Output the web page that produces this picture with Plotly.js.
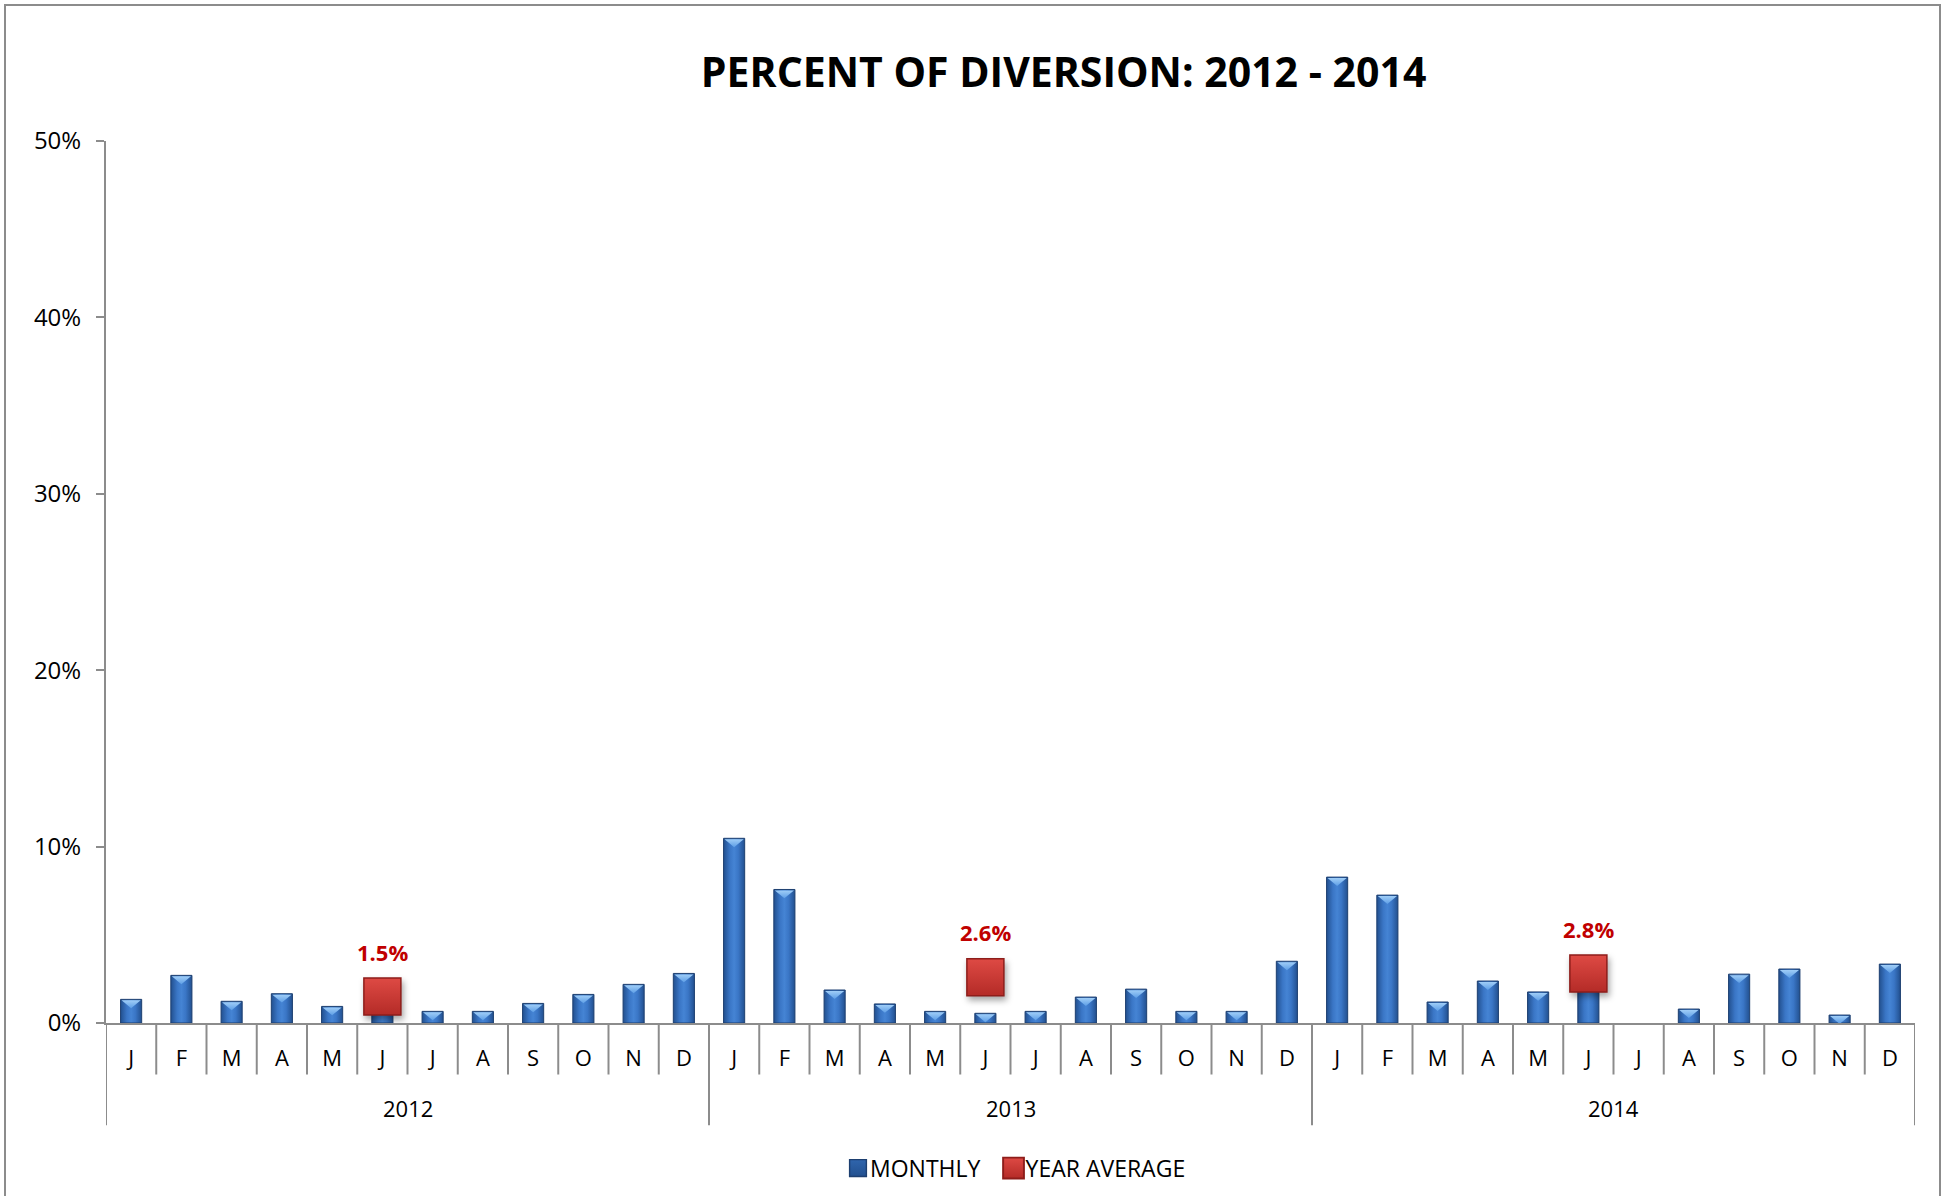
<!DOCTYPE html>
<html><head><meta charset="utf-8">
<script src="https://cdn.plot.ly/plotly-3.0.1.min.js"></script>
<style>
html,body{margin:0;padding:0;background:#fff;overflow:hidden}
#chart{width:1948px;height:1196px}
#frame{position:absolute;left:4px;top:4px;width:1933px;height:1300px;border:2px solid #8c8c8c;pointer-events:none}
</style></head>
<body><div id="chart"></div><div id="frame"></div>
<script>
// ---- data (percent) ----
const years = ['2012', '2013', '2014'];
const months = ['J', 'F', 'M', 'A', 'M', 'J', 'J', 'A', 'S', 'O', 'N', 'D'];
const monthly2012 = [1.34, 2.70, 1.23, 1.66, 0.94, 1.10, 0.66, 0.66, 1.11, 1.62, 2.19, 2.81];
const monthly2013 = [10.47, 7.57, 1.87, 1.08, 0.66, 0.55, 0.66, 1.47, 1.92, 0.66, 0.66, 3.50];
const monthly2014 = [8.27, 7.25, 1.19, 2.38, 1.76, 2.30, null, 0.79, 2.77, 3.06, 0.45, 3.34];
const yearAverage = [1.5, 2.6, 2.8];
const yTickVals = [0, 10, 20, 30, 40, 50];
const yTickText = ['0%', '10%', '20%', '30%', '40%', '50%'];
const averageMonth = 5; // plotted at June

// ---- build ----
const monthlySeries = [monthly2012, monthly2013, monthly2014];
const xIdx = [], yVals = [], tickText = [];
monthlySeries.forEach((arr, yi) => arr.forEach((v, mi) => {
  xIdx.push(yi * months.length + mi); yVals.push(v); tickText.push(months[mi]);
}));
const avgX = years.map((y, yi) => yi * months.length + averageMonth);
const nCat = years.length * months.length;

const gray = '#8c8c8c';
const font = 'Open Sans, Liberation Sans, sans-serif';

const traces = [
  {
    type: 'bar', name: 'MONTHLY', x: xIdx, y: yVals, width: 0.42,
    marker: {color: '#3a75c4', line: {color: '#1d3f70', width: 1}},
    hoverinfo: 'skip'
  },
  {
    type: 'scatter', mode: 'markers', name: 'YEAR AVERAGE', x: avgX, y: yearAverage,
    marker: {symbol: 'square', size: 37, color: '#de4a44',
             gradient: {type: 'vertical', color: '#b42b27'},
             line: {color: '#8e1d1a', width: 1.5}},
    hoverinfo: 'skip'
  }
];

const shapes = [];
for (let b = 0; b <= nCat; b++) {
  const isYear = b % months.length === 0;
  shapes.push({type: 'line', xref: 'x', yref: 'paper', x0: b - 0.5, x1: b - 0.5,
    y0: 0, y1: isYear ? -0.1158 : -0.0584, line: {color: gray, width: 2}, layer: 'below'});
}

const annotations = years.map((y, yi) => ({
  xref: 'x', yref: 'paper', x: yi * months.length + (months.length - 1) / 2, y: -0.0965,
  text: y, showarrow: false, font: {family: font, size: 22, color: '#000'}, yanchor: 'middle'
})).concat(yearAverage.map((v, i) => ({
  xref: 'x', yref: 'y', x: avgX[i], y: v, yshift: 45, text: v.toFixed(1) + '%',
  showarrow: false, font: {family: font, size: 22, color: '#c00000', weight: 'bold'}, yanchor: 'middle'
})));

const layout = {
  width: 1948, height: 1196,
  paper_bgcolor: '#fff', plot_bgcolor: '#fff',
  margin: {l: 106, r: 33, t: 141, b: 172.5, autoexpand: false},
  title: {text: '<b>PERCENT OF DIVERSION: 2012 - 2014</b>', x: 0.546, xanchor: 'center',
          y: 1 - 73 / 1196, yanchor: 'middle', yref: 'container', xref: 'container',
          font: {family: font, size: 41, color: '#000'}},
  xaxis: {
    range: [-0.5, nCat - 0.5], tickvals: xIdx, ticktext: tickText, ticks: '',
    showline: true, linecolor: gray, linewidth: 2, showgrid: false, zeroline: false,
    tickfont: {family: font, size: 22, color: '#000'}, ticklabelstandoff: 15
  },
  yaxis: {
    range: [0, 50], tickvals: yTickVals, ticktext: yTickText, ticks: 'outside', ticklen: 8,
    tickwidth: 2, tickcolor: gray, showline: true, linecolor: gray, linewidth: 2,
    showgrid: false, zeroline: false, ticklabelstandoff: 10,
    tickfont: {family: font, size: 24, color: '#000'}
  },
  shapes: shapes,
  annotations: annotations,
  showlegend: true,
  legend: {orientation: 'h', x: 0.5, xanchor: 'center', y: -0.1645, yanchor: 'middle',
           font: {family: font, size: 23, color: '#000'}, itemclick: false},
  bargap: 0
};

Plotly.newPlot('chart', traces, layout, {staticPlot: true, displayModeBar: false}).then(gd => {
  const NS = 'http://www.w3.org/2000/svg';
  const svg = gd.querySelector('.main-svg');
  let defs = svg.querySelector('defs');
  function grad(id, stops, vertical) {
    const g = document.createElementNS(NS, 'linearGradient');
    g.setAttribute('id', id);
    g.setAttribute('x1', '0'); g.setAttribute('y1', '0');
    g.setAttribute('x2', vertical ? '0' : '1'); g.setAttribute('y2', vertical ? '1' : '0');
    stops.forEach(([o, c]) => {
      const s = document.createElementNS(NS, 'stop');
      s.setAttribute('offset', o); s.setAttribute('stop-color', c); g.appendChild(s);
    });
    defs.appendChild(g);
  }
  grad('barBody', [[0, '#22508f'], [0.3, '#3a76c6'], [0.5, '#4584d4'], [0.7, '#3a76c6'], [1, '#22508f']]);
  grad('barTop', [[0, '#9fcdf7'], [1, '#5d9ee6']], true);
  grad('legBody', [[0, '#2f65ad'], [1, '#22508f']], true);
  gd.querySelectorAll('.barlayer .trace .point path').forEach(p => {
    p.style.fill = 'url(#barBody)';
    const bb = p.getBBox();
    if (bb.height <= 0) return;
    const depth = bb.width * 0.42;
    const h = Math.min(depth, bb.height);
    const inset = (h / depth) * bb.width / 2;
    const poly = document.createElementNS(NS, 'polygon');
    poly.setAttribute('points', [
      [bb.x + 1, bb.y + 1], [bb.x + bb.width - 1, bb.y + 1],
      [bb.x + bb.width - inset, bb.y + h], [bb.x + inset, bb.y + h]
    ].map(q => q.join(',')).join(' '));
    poly.setAttribute('fill', 'url(#barTop)');
    p.parentNode.appendChild(poly);
  });
  gd.querySelectorAll('.scatterlayer .trace .points path').forEach(p => {
    p.style.filter = 'drop-shadow(2px 4px 3px rgba(0,0,0,0.35))';
  });
  const legPaths = gd.querySelectorAll('.legend .legendpoints path');
  legPaths.forEach((p, i) => {
    const t = p.getAttribute('transform') || '';
    p.setAttribute('transform', t + ' translate(8,0) scale(' + (i === 0 ? 1.4 : 1.3) + ')');
  });
  if (legPaths.length) legPaths[0].style.fill = 'url(#legBody)';
});
</script>
</body></html>
